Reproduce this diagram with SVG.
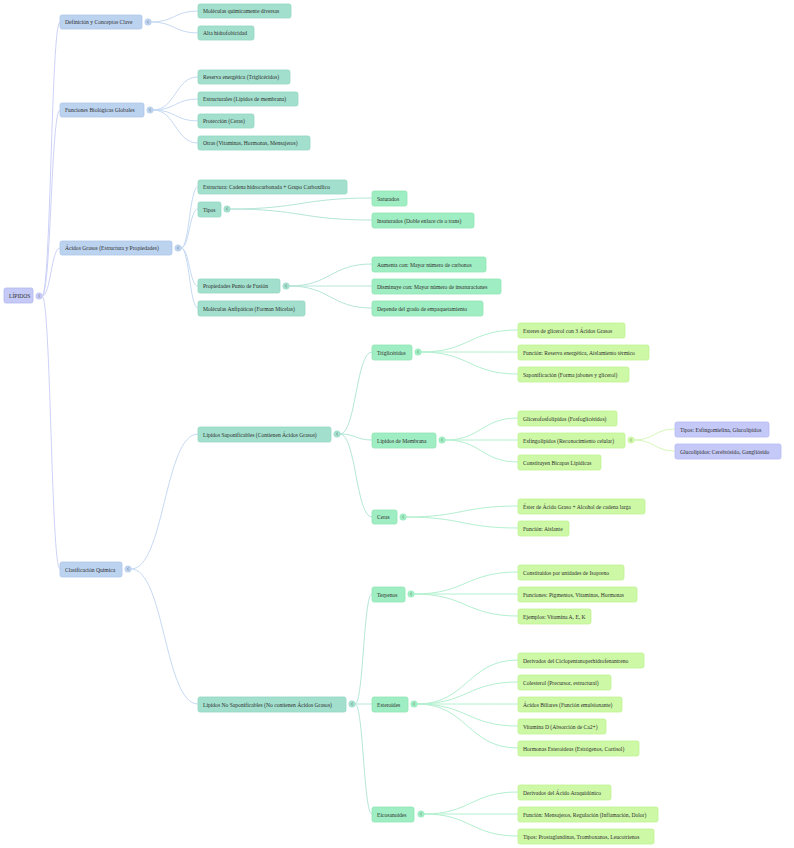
<svg xmlns="http://www.w3.org/2000/svg" width="794" height="848" viewBox="0 0 794 848">
<style>
text{font-family:"Liberation Serif","Times New Roman",serif;font-size:5.6px;fill:#2f2f2f}
rect{rx:2;ry:2;stroke-width:0.8}
.n0{fill:#c4c9f6;stroke:#b3b9f0}
.n1{fill:#bcd3ef;stroke:#adc7ea}
.n2{fill:#a2dfcd;stroke:#93d7c3}
.n3{fill:#9fedc2;stroke:#90e6b6}
.n4{fill:#cdf8a6;stroke:#c0f293}
.n5{fill:#c5c9f8;stroke:#b5baf3}
path{fill:none;stroke-width:1}
.e0{stroke:#cdd2f8}
.e1{stroke:#c6daf3}
.e2{stroke:#b5e6d8}
.e3{stroke:#b3f0cf}
.e4{stroke:#d6f8b8}
.t0{fill:#c4c9f6}.t1{fill:#bcd3ef}.t2{fill:#a2dfcd}.t3{fill:#9fedc2}.t4{fill:#cdf8a6}
polyline{fill:none;stroke:#666;stroke-width:0.5}
</style>
<defs>
<g id="chev"><polyline points="0.8,-1.3 -0.7,0 0.8,1.3"/></g>
</defs>
<rect width="794" height="848" fill="#ffffff" style="stroke:none"/>
<g id="connectors">
<path class="e0" d="M42 296 C51 296 51 22 60 22"/>
<path class="e0" d="M42 296 C51 296 51 110 60 110"/>
<path class="e0" d="M42 296 C51 296 51 248 60 248"/>
<path class="e0" d="M42 296 C51 296 51 569 60 569"/>
<path class="e1" d="M151 22 C174.5 22 174.5 11 198 11"/>
<path class="e1" d="M151 22 C174.5 22 174.5 33 198 33"/>
<path class="e1" d="M153 110 C175.5 110 175.5 77 198 77"/>
<path class="e1" d="M153 110 C175.5 110 175.5 99 198 99"/>
<path class="e1" d="M153 110 C175.5 110 175.5 121 198 121"/>
<path class="e1" d="M153 110 C175.5 110 175.5 143 198 143"/>
<path class="e1" d="M181 248 C189.5 248 189.5 187 198 187"/>
<path class="e1" d="M181 248 C189.5 248 189.5 209 198 209"/>
<path class="e1" d="M181 248 C189.5 248 189.5 286 198 286"/>
<path class="e1" d="M181 248 C189.5 248 189.5 308 198 308"/>
<path class="e1" d="M131 569 C164.5 569 164.5 434 198 434"/>
<path class="e1" d="M131 569 C164.5 569 164.5 704 198 704"/>
<path class="e2" d="M230 209 C301 209 301 198 372 198"/>
<path class="e2" d="M230 209 C301 209 301 220 372 220"/>
<path class="e2" d="M289 286 C330.5 286 330.5 264 372 264"/>
<path class="e2" d="M289 286 C330.5 286 330.5 286 372 286"/>
<path class="e2" d="M289 286 C330.5 286 330.5 308 372 308"/>
<path class="e2" d="M340 434 C356 434 356 352 372 352"/>
<path class="e2" d="M340 434 C356 434 356 440 372 440"/>
<path class="e2" d="M340 434 C356 434 356 517 372 517"/>
<path class="e2" d="M355 704 C363.5 704 363.5 594 372 594"/>
<path class="e2" d="M355 704 C363.5 704 363.5 704 372 704"/>
<path class="e2" d="M355 704 C363.5 704 363.5 814 372 814"/>
<path class="e3" d="M421 352 C469.5 352 469.5 330 518 330"/>
<path class="e3" d="M421 352 C469.5 352 469.5 352 518 352"/>
<path class="e3" d="M421 352 C469.5 352 469.5 374 518 374"/>
<path class="e3" d="M445 440 C481.5 440 481.5 418 518 418"/>
<path class="e3" d="M445 440 C481.5 440 481.5 440 518 440"/>
<path class="e3" d="M445 440 C481.5 440 481.5 462 518 462"/>
<path class="e3" d="M406 517 C462 517 462 506 518 506"/>
<path class="e3" d="M406 517 C462 517 462 528 518 528"/>
<path class="e3" d="M414 594 C466 594 466 572 518 572"/>
<path class="e3" d="M414 594 C466 594 466 594 518 594"/>
<path class="e3" d="M414 594 C466 594 466 616 518 616"/>
<path class="e3" d="M417 704 C467.5 704 467.5 660 518 660"/>
<path class="e3" d="M417 704 C467.5 704 467.5 682 518 682"/>
<path class="e3" d="M417 704 C467.5 704 467.5 704 518 704"/>
<path class="e3" d="M417 704 C467.5 704 467.5 726 518 726"/>
<path class="e3" d="M417 704 C467.5 704 467.5 748 518 748"/>
<path class="e3" d="M424 814 C471 814 471 792 518 792"/>
<path class="e3" d="M424 814 C471 814 471 814 518 814"/>
<path class="e3" d="M424 814 C471 814 471 836 518 836"/>
<path class="e4" d="M634 440 C654.5 440 654.5 429 675 429"/>
<path class="e4" d="M634 440 C654.5 440 654.5 451 675 451"/>
</g>
<g id="toggles">
<circle class="t0" cx="39" cy="296" r="3.5"/><use href="#chev" x="39" y="296"/>
<circle class="t1" cx="148" cy="22" r="3.5"/><use href="#chev" x="148" y="22"/>
<circle class="t1" cx="150" cy="110" r="3.5"/><use href="#chev" x="150" y="110"/>
<circle class="t1" cx="178" cy="248" r="3.5"/><use href="#chev" x="178" y="248"/>
<circle class="t1" cx="128" cy="569" r="3.5"/><use href="#chev" x="128" y="569"/>
<circle class="t2" cx="227" cy="209" r="3.5"/><use href="#chev" x="227" y="209"/>
<circle class="t2" cx="286" cy="286" r="3.5"/><use href="#chev" x="286" y="286"/>
<circle class="t2" cx="337" cy="434" r="3.5"/><use href="#chev" x="337" y="434"/>
<circle class="t2" cx="352" cy="704" r="3.5"/><use href="#chev" x="352" y="704"/>
<circle class="t3" cx="418" cy="352" r="3.5"/><use href="#chev" x="418" y="352"/>
<circle class="t3" cx="442" cy="440" r="3.5"/><use href="#chev" x="442" y="440"/>
<circle class="t3" cx="403" cy="517" r="3.5"/><use href="#chev" x="403" y="517"/>
<circle class="t3" cx="411" cy="594" r="3.5"/><use href="#chev" x="411" y="594"/>
<circle class="t3" cx="414" cy="704" r="3.5"/><use href="#chev" x="414" y="704"/>
<circle class="t3" cx="421" cy="814" r="3.5"/><use href="#chev" x="421" y="814"/>
<circle class="t4" cx="631" cy="440" r="3.5"/><use href="#chev" x="631" y="440"/>
</g>
<g id="root"><rect class="n0" x="4" y="288" width="29" height="15"/><text x="9" y="297.6">LÍPIDOS</text></g>
<g id="n-definicion"><rect class="n1" x="60" y="15" width="82" height="14"/><text x="65" y="24">Definición y Conceptos Clave</text></g>
<g id="n-funciones"><rect class="n1" x="60" y="103" width="84" height="14"/><text x="65" y="112">Funciones Biológicas Globales</text></g>
<g id="n-acidos"><rect class="n1" x="60" y="241" width="112" height="14"/><text x="65" y="250">Ácidos Grasos (Estructura y Propiedades)</text></g>
<g id="n-clasificacion"><rect class="n1" x="60" y="562" width="62" height="15"/><text x="65" y="571.5">Clasificación Química</text></g>
<g id="n-moleculas"><rect class="n2" x="198" y="4" width="93" height="14"/><text x="203" y="13">Moléculas químicamente diversas</text></g>
<g id="n-alta"><rect class="n2" x="198" y="26" width="56" height="14"/><text x="203" y="35">Alta hidrofobicidad</text></g>
<g id="n-reserva"><rect class="n2" x="198" y="70" width="92" height="14"/><text x="203" y="79">Reserva energética (Triglicéridos)</text></g>
<g id="n-estructurales"><rect class="n2" x="198" y="92" width="100" height="14"/><text x="203" y="101">Estructurales (Lípidos de membrana)</text></g>
<g id="n-proteccion"><rect class="n2" x="198" y="114" width="56" height="14"/><text x="203" y="123">Protección (Ceras)</text></g>
<g id="n-otras"><rect class="n2" x="198" y="136" width="112" height="14"/><text x="203" y="145">Otras (Vitaminas, Hormonas, Mensajeros)</text></g>
<g id="n-estructura"><rect class="n2" x="198" y="180" width="149" height="14"/><text x="203" y="189">Estructura: Cadena hidrocarbonada + Grupo Carboxílico</text></g>
<g id="n-tipos"><rect class="n2" x="198" y="202" width="23" height="15"/><text x="203" y="211.5">Tipos</text></g>
<g id="n-propiedades"><rect class="n2" x="198" y="279" width="82" height="14"/><text x="203" y="288">Propiedades Punto de Fusión</text></g>
<g id="n-anfipaticas"><rect class="n2" x="198" y="301" width="107" height="15"/><text x="203" y="310.5">Moléculas Anfipáticas (Forman Micelas)</text></g>
<g id="n-saponificables"><rect class="n2" x="198" y="427" width="133" height="15"/><text x="203" y="436.5">Lípidos Saponificables (Contienen Ácidos Grasos)</text></g>
<g id="n-nosaponificables"><rect class="n2" x="198" y="697" width="148" height="15"/><text x="203" y="706.5">Lípidos No Saponificables (No contienen Ácidos Grasos)</text></g>
<g id="n-saturados"><rect class="n3" x="372" y="191" width="35" height="15"/><text x="377" y="200.5">Saturados</text></g>
<g id="n-insaturados"><rect class="n3" x="372" y="213" width="102" height="15"/><text x="377" y="222.5">Insaturados (Doble enlace cis o trans)</text></g>
<g id="n-aumenta"><rect class="n3" x="372" y="257" width="114" height="15"/><text x="377" y="266.5">Aumenta con: Mayor número de carbonos</text></g>
<g id="n-disminuye"><rect class="n3" x="372" y="279" width="129" height="15"/><text x="377" y="288.5">Disminuye con: Mayor número de insaturaciones</text></g>
<g id="n-depende"><rect class="n3" x="372" y="301" width="111" height="15"/><text x="377" y="310.5">Depende del grado de empaquetamiento</text></g>
<g id="n-trigliceridos"><rect class="n3" x="372" y="345" width="40" height="15"/><text x="377" y="354.5">Triglicéridos</text></g>
<g id="n-membrana"><rect class="n3" x="372" y="433" width="64" height="15"/><text x="377" y="442.5">Lípidos de Membrana</text></g>
<g id="n-ceras"><rect class="n3" x="372" y="510" width="25" height="14"/><text x="377" y="519">Ceras</text></g>
<g id="n-terpenos"><rect class="n3" x="372" y="587" width="33" height="15"/><text x="377" y="596.5">Terpenos</text></g>
<g id="n-esteroides"><rect class="n3" x="372" y="697" width="36" height="15"/><text x="377" y="706.5">Esteroides</text></g>
<g id="n-eicosanoides"><rect class="n3" x="372" y="807" width="42" height="15"/><text x="377" y="816.5">Eicosanoides</text></g>
<g id="n-esteres"><rect class="n4" x="518" y="323" width="107" height="15"/><text x="523" y="332.5">Esteres de glicerol con 3 Ácidos Grasos</text></g>
<g id="n-funcion-reserva"><rect class="n4" x="518" y="345" width="131" height="15"/><text x="523" y="354.5">Función: Reserva energética, Aislamiento térmico</text></g>
<g id="n-saponificacion"><rect class="n4" x="518" y="367" width="111" height="15"/><text x="523" y="376.5">Saponificación (Forma jabones y glicerol)</text></g>
<g id="n-glicerofosfolipidos"><rect class="n4" x="518" y="411" width="99" height="15"/><text x="523" y="420.5">Glicerofosfolípidos (Fosfoglicéridos)</text></g>
<g id="n-esfingolipidos"><rect class="n4" x="518" y="433" width="107" height="15"/><text x="523" y="442.5">Esfingolípidos (Reconocimiento celular)</text></g>
<g id="n-bicapas"><rect class="n4" x="518" y="455" width="83" height="15"/><text x="523" y="464.5">Constituyen Bicapas Lipídicas</text></g>
<g id="n-ester"><rect class="n4" x="518" y="499" width="127" height="15"/><text x="523" y="508.5">Éster de Ácido Graso + Alcohol de cadena larga</text></g>
<g id="n-aislante"><rect class="n4" x="518" y="521" width="51" height="15"/><text x="523" y="530.5">Función: Aislante</text></g>
<g id="n-isopreno"><rect class="n4" x="518" y="565" width="106" height="15"/><text x="523" y="574.5">Constituidos por unidades de Isopreno</text></g>
<g id="n-pigmentos"><rect class="n4" x="518" y="587" width="119" height="15"/><text x="523" y="596.5">Funciones: Pigmentos, Vitaminas, Hormonas</text></g>
<g id="n-ejemplos"><rect class="n4" x="518" y="609" width="73" height="15"/><text x="523" y="618.5">Ejemplos: Vitamina A, E, K</text></g>
<g id="n-ciclo"><rect class="n4" x="518" y="653" width="126" height="15"/><text x="523" y="662.5">Derivados del Ciclopentanoperhidrofenantreno</text></g>
<g id="n-colesterol"><rect class="n4" x="518" y="675" width="93" height="15"/><text x="523" y="684.5">Colesterol (Precursor, estructural)</text></g>
<g id="n-biliares"><rect class="n4" x="518" y="697" width="104" height="15"/><text x="523" y="706.5">Ácidos Biliares (Función emulsionante)</text></g>
<g id="n-vitaminad"><rect class="n4" x="518" y="719" width="88" height="15"/><text x="523" y="728.5">Vitamina D (Absorción de Ca2+)</text></g>
<g id="n-hormonas"><rect class="n4" x="518" y="741" width="121" height="15"/><text x="523" y="750.5">Hormonas Esteroideas (Estrógenos, Cortisol)</text></g>
<g id="n-araquidonico"><rect class="n4" x="518" y="785" width="93" height="15"/><text x="523" y="794.5">Derivados del Ácido Araquidónico</text></g>
<g id="n-mensajeros"><rect class="n4" x="518" y="807" width="140" height="15"/><text x="523" y="816.5">Función: Mensajeros, Regulación (Inflamación, Dolor)</text></g>
<g id="n-prostaglandinas"><rect class="n4" x="518" y="829" width="136" height="15"/><text x="523" y="838.5">Tipos: Prostaglandinas, Tromboxanos, Leucotrienos</text></g>
<g id="n-esfingomielina"><rect class="n5" x="675" y="422" width="94" height="15"/><text x="680" y="431.5">Tipos: Esfingomielina, Glucolípidos</text></g>
<g id="n-glucolipidos"><rect class="n5" x="675" y="444" width="106" height="15"/><text x="680" y="453.5">Glucolípidos: Cerebrósido, Gangliósido</text></g>
</svg>
